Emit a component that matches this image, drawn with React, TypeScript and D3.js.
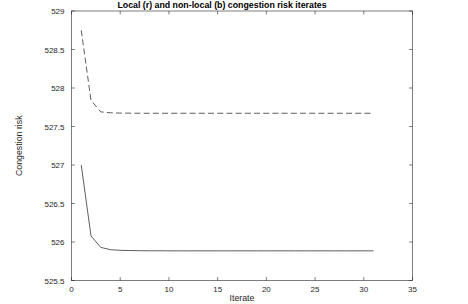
import React, { useEffect, useRef } from 'react'
import * as d3 from 'd3'

// iterate numbers
const iterates = [
  1, 2, 3, 4, 5, 6, 7, 8, 9, 10, 11, 12, 13, 14, 15, 16, 17, 18, 19, 20, 21, 22, 23, 24, 25, 26,
  27, 28, 29, 30, 31,
]

// solid line (local)
const localRisk = [
  527.0, 526.08, 525.93, 525.9, 525.892, 525.889, 525.887, 525.886, 525.886, 525.885, 525.885,
  525.885, 525.885, 525.885, 525.885, 525.885, 525.885, 525.885, 525.885, 525.885, 525.885,
  525.885, 525.885, 525.885, 525.885, 525.885, 525.885, 525.885, 525.885, 525.885, 525.885,
]

// dashed line (non-local)
const nonLocalRisk = [
  528.75, 527.84, 527.69, 527.678, 527.674, 527.673, 527.672, 527.672, 527.672, 527.672, 527.672,
  527.672, 527.672, 527.672, 527.672, 527.672, 527.672, 527.672, 527.672, 527.672, 527.672,
  527.672, 527.672, 527.672, 527.672, 527.672, 527.672, 527.672, 527.672, 527.672, 527.672,
]

const xTicks = [0, 5, 10, 15, 20, 25, 30, 35]
const yTicks = [525.5, 526, 526.5, 527, 527.5, 528, 528.5, 529]

const title = 'Local (r) and non-local (b) congestion risk iterates'

export default function App() {
  const ref = useRef<SVGSVGElement>(null)

  useEffect(() => {
    const svg = d3.select(ref.current)
    svg.selectAll('*').remove()

    const left = 71.5,
      right = 412.5,
      top = 11,
      bottom = 280.5
    const axisColor = '#262626'
    const font = 'Liberation Sans, Arial, sans-serif'

    const x = d3.scaleLinear().domain([0, 35]).range([left, right])
    const y = d3.scaleLinear().domain([525.5, 529]).range([bottom, top])

    const g = svg.append('g')

    // box
    g.append('rect')
      .attr('x', left)
      .attr('y', top)
      .attr('width', right - left)
      .attr('height', bottom - top)
      .attr('fill', 'white')
      .attr('stroke', axisColor)
      .attr('stroke-width', 0.6)

    const tl = 3.4
    // x ticks (bottom and top, inward)
    xTicks.forEach(t => {
      const px = x(t)
      g.append('line').attr('x1', px).attr('x2', px).attr('y1', bottom).attr('y2', bottom - tl)
        .attr('stroke', axisColor).attr('stroke-width', 0.6)
      g.append('line').attr('x1', px).attr('x2', px).attr('y1', top).attr('y2', top + tl)
        .attr('stroke', axisColor).attr('stroke-width', 0.6)
      g.append('text')
        .attr('x', px)
        .attr('y', bottom + 11.5)
        .attr('text-anchor', 'middle')
        .attr('font-family', font)
        .attr('font-size', 8)
        .attr('fill', axisColor)
        .text(t)
    })

    // y ticks (left and right, inward)
    yTicks.forEach(t => {
      const py = y(t)
      g.append('line').attr('x1', left).attr('x2', left + tl).attr('y1', py).attr('y2', py)
        .attr('stroke', axisColor).attr('stroke-width', 0.6)
      g.append('line').attr('x1', right).attr('x2', right - tl).attr('y1', py).attr('y2', py)
        .attr('stroke', axisColor).attr('stroke-width', 0.6)
      g.append('text')
        .attr('x', left - 7)
        .attr('y', py + 3)
        .attr('text-anchor', 'end')
        .attr('font-family', font)
        .attr('font-size', 8)
        .attr('fill', axisColor)
        .text(t)
    })

    const line = d3
      .line<number>()
      .x((d, i) => x(iterates[i]))
      .y(d => y(d))

    g.append('path')
      .attr('d', line(localRisk))
      .attr('fill', 'none')
      .attr('stroke', '#333')
      .attr('stroke-width', 0.8)

    g.append('path')
      .attr('d', line(nonLocalRisk))
      .attr('fill', 'none')
      .attr('stroke', '#333')
      .attr('stroke-width', 0.8)
      .attr('stroke-dasharray', '6,3.2')

    svg.append('text')
      .attr('x', 222)
      .attr('y', 8)
      .attr('text-anchor', 'middle')
      .attr('font-family', font)
      .attr('font-size', 8.8)
      .attr('font-weight', 'bold')
      .attr('fill', '#000')
      .text(title)

    svg.append('text')
      .attr('x', (left + right) / 2)
      .attr('y', 301)
      .attr('text-anchor', 'middle')
      .attr('font-family', font)
      .attr('font-size', 8.8)
      .attr('fill', axisColor)
      .text('Iterate')

    svg.append('text')
      .attr('transform', `translate(22,${(top + bottom) / 2}) rotate(-90)`)
      .attr('text-anchor', 'middle')
      .attr('font-family', font)
      .attr('font-size', 8.8)
      .attr('fill', axisColor)
      .text('Congestion risk')
  }, [])

  return (
    <svg
      ref={ref}
      width={468}
      height={304}
      style={{ position: 'absolute', left: 0, top: 0, background: 'white' }}
    />
  )
}
